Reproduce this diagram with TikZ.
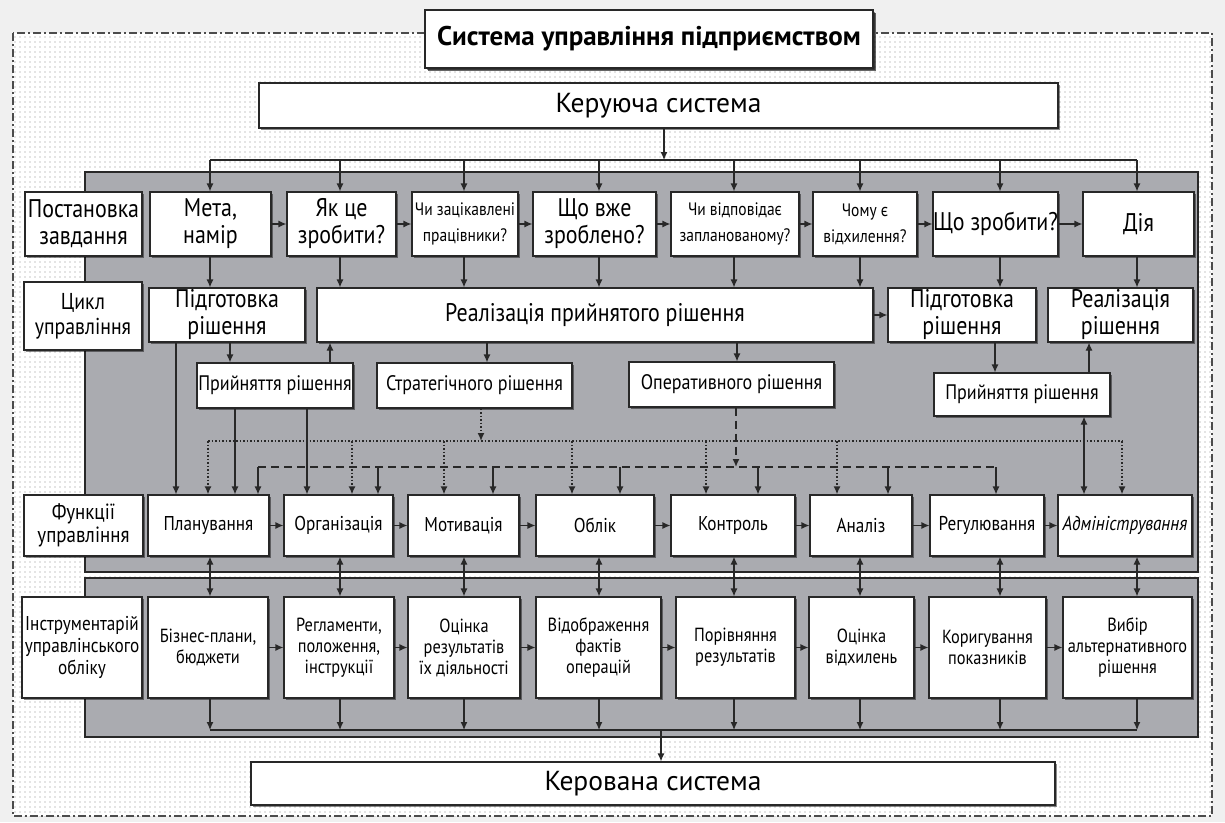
\documentclass[tikz,border=0pt]{standalone}
\usepackage{fontspec}
\setmainfont[FakeStretch=0.86]{PT Sans}
\newfontfamily\widefont{PT Sans}
\usepackage{tikz}
\usetikzlibrary{arrows.meta}
\usetikzlibrary{patterns.meta}
\usetikzlibrary{shadows}
\usetikzlibrary{positioning}
\usetikzlibrary{math}

\definecolor{panelgray}{RGB}{170,171,176}
\definecolor{linegray}{RGB}{40,40,40}

\tikzstyle{box} = [draw=linegray, line width=1.2pt, fill=white, inner sep=0pt, align=center, drop shadow={shadow xshift=1.5pt, shadow yshift=-1.5pt, fill=black, opacity=0.45}]
\tikzstyle{big} = [font=\widefont\fontsize{27.5}{30}\selectfont]
\tikzstyle{mid} = [font=\fontsize{25.5}{27}\selectfont]
\tikzstyle{lab} = [font=\fontsize{23}{25}\selectfont]
\tikzstyle{sml} = [font=\fontsize{18}{26}\selectfont]
\tikzstyle{dec} = [font=\fontsize{21}{22}\selectfont]
\tikzstyle{fun} = [font=\fontsize{20}{22}\selectfont]
\tikzstyle{tool} = [font=\fontsize{19}{21}\selectfont]
\tikzstyle{arrow} = [->, line width=1.2pt, draw=linegray]
\tikzstyle{twoway} = [<->, line width=1.2pt, draw=linegray]
\tikzstyle{dotbus} = [line width=1.5pt, draw=linegray, dotted]
\tikzstyle{dashbus} = [line width=1.5pt, draw=linegray, dash pattern=on 8pt off 5pt]
\tikzstyle{panel} = [draw=linegray, line width=1.2pt, fill=panelgray]

\begin{document}
\begin{tikzpicture}[x=1pt, y=-1pt, >={Latex[length=8pt,width=7pt]}]

  \tikzmath{\ya = 224; \yb = 315; \yd = 525.5; \ye = 647.5;}
  \tikzmath{\ha = 64; \hb = 54; \hd = 61; \he = 101;}

  \useasboundingbox (0,0) rectangle (1225,822);

  % background and frame
  \fill[black!6] (0,0) rectangle (1225,822);
  \path[preaction={fill=white}, pattern={Dots[distance=5pt,radius=0.6pt]}, pattern color=black!45] (13,33) rectangle (1212,816);
  \draw[black!70, line width=1.2pt, dash pattern=on 8pt off 3pt on 2pt off 3pt] (13,33) rectangle (1212,816);

  % panels
  \draw[panel] (85,172) rectangle (1198,572);
  \draw[panel] (85,578) rectangle (1198,737);

  % columns
  \foreach \i/\x in {1/210,2/340,3/464,4/599,5/734,6/860,7/1000,8/1137}
    \coordinate (col\i) at (\x,0);

  % top
  \node[box, font=\widefont\bfseries\fontsize{27}{30}\selectfont, minimum width=448pt, minimum height=58pt,
        drop shadow={shadow xshift=3pt, shadow yshift=-3pt, fill=black, opacity=0.6}] (sys) at (649,39) {Система управління підприємством};
  \node[box, big, minimum width=799pt, minimum height=45pt] (keruy) at (658.5,105.5) {Керуюча система};

  % Row 1
  \node[box, mid, minimum width=117pt, minimum height=\ha pt] (postan) at (83.5,\ya) {Постановка\\завдання};
  \node[box, mid, minimum width=121pt, minimum height=\ha pt] (meta) at (210.5,\ya) {Мета,\\намір};
  \node[box, mid, minimum width=109pt, minimum height=\ha pt] (yak) at (341.5,\ya) {Як це\\зробити?};
  \node[box, sml, minimum width=106pt, minimum height=\ha pt] (zatsik) at (465,\ya) {Чи зацікавлені\\працівники?};
  \node[box, mid, minimum width=123pt, minimum height=\ha pt] (zrobl) at (594.5,\ya) {Що вже\\зроблено?};
  \node[box, sml, minimum width=128pt, minimum height=\ha pt] (vidp) at (735,\ya) {Чи відповідає\\запланованому?};
  \node[box, sml, minimum width=104pt, minimum height=\ha pt] (chomu) at (865,\ya) {Чому є\\відхилення?};
  \node[box, mid, minimum width=125pt, minimum height=\ha pt] (shcho) at (995.5,\ya) {Що зробити?};
  \node[box, mid, minimum width=111pt, minimum height=\ha pt] (diya) at (1138.5,\ya) {Дія};

  % Row 2
  \node[box, lab, minimum width=118pt, minimum height=68pt] (tsykl) at (83,316) {Цикл\\управління};
  \node[box, mid, minimum width=156pt, minimum height=\hb pt] (pidg1) at (227,\yb) {Підготовка\\рішення};
  \node[box, mid, minimum width=556pt, minimum height=\hb pt] (realiz) at (595,\yb) {Реалізація прийнятого рішення};
  \node[box, mid, minimum width=148pt, minimum height=\hb pt] (pidg2) at (962,\yb) {Підготовка\\рішення};
  \node[box, mid, minimum width=145pt, minimum height=\hb pt] (realiz2) at (1120.5,\yb) {Реалізація\\рішення};

  % Row 3
  \node[box, dec, minimum width=156pt, minimum height=45pt] (prin1) at (275,385.5) {Прийняття рішення};
  \node[box, dec, minimum width=195pt, minimum height=45pt] (strat) at (474.5,385.5) {Стратегічного рішення};
  \node[box, dec, minimum width=205pt, minimum height=45pt] (oper) at (731.5,384.5) {Оперативного рішення};
  \node[box, dec, minimum width=176pt, minimum height=43pt] (prin2) at (1022,394.5) {Прийняття рішення};

  % Row 4
  \node[box, lab, minimum width=119pt, minimum height=\hd pt, font=\fontsize{22}{23}\selectfont] (funk) at (83.5,\yd) {Функції\\управління};
  \node[box, fun, minimum width=121pt, minimum height=\hd pt] (plan) at (208.5,\yd) {Планування};
  \node[box, fun, minimum width=109pt, minimum height=\hd pt] (org) at (338.5,\yd) {Організація};
  \node[box, fun, minimum width=111pt, minimum height=\hd pt] (motiv) at (463.5,\yd) {Мотивація};
  \node[box, fun, minimum width=118pt, minimum height=\hd pt] (oblik) at (595,\yd) {Облік};
  \node[box, fun, minimum width=124pt, minimum height=\hd pt] (kontr) at (733,\yd) {Контроль};
  \node[box, fun, minimum width=102pt, minimum height=\hd pt] (analiz) at (861,\yd) {Аналіз};
  \node[box, fun, minimum width=114pt, minimum height=\hd pt] (regul) at (987,\yd) {Регулювання};
  \node[box, fun, minimum width=134pt, minimum height=\hd pt] (admin) at (1125,\yd) {\itshape Адміністрування};

  % Row 5
  \node[box, fun, minimum width=120pt, minimum height=\he pt, font=\fontsize{20}{22}\selectfont] (instr) at (82,\ye) {Інструментарій\\управлінського\\обліку};
  \node[box, tool, minimum width=120pt, minimum height=\he pt] (biznes) at (208,\ye) {Бізнес-плани,\\бюджети};
  \node[box, tool, minimum width=110pt, minimum height=\he pt] (reglam) at (339,\ye) {Регламенти,\\положення,\\інструкції};
  \node[box, tool, minimum width=112pt, minimum height=\he pt] (otsin1) at (464,\ye) {Оцінка\\результатів\\їх діяльності};
  \node[box, tool, minimum width=125pt, minimum height=\he pt] (vidobr) at (598.5,\ye) {Відображення\\фактів\\операцій};
  \node[box, tool, minimum width=119pt, minimum height=\he pt] (porivn) at (735.5,\ye) {Порівняння\\результатів};
  \node[box, tool, minimum width=105pt, minimum height=\he pt] (otsin2) at (861.5,\ye) {Оцінка\\відхилень};
  \node[box, tool, minimum width=117pt, minimum height=\he pt] (koryg) at (987.5,\ye) {Коригування\\показників};
  \node[box, tool, minimum width=129pt, minimum height=\he pt] (vybir) at (1127.5,\ye) {Вибір\\альтернативного\\рішення};

  % bottom
  \node[box, big, minimum width=804pt, minimum height=43pt] (kerov) at (653,783.5) {Керована система};

  % top bus
  \coordinate (topbus) at (664,160);
  \draw[arrow] (keruy.south -| topbus) -- (topbus);
  \draw[line width=1.2pt, linegray] (topbus -| col1) -- (topbus -| col8);
  \foreach \i/\n in {1/meta,2/yak,3/zatsik,4/zrobl,5/vidp,6/chomu,7/shcho,8/diya}
    \draw[arrow] (topbus -| col\i) -- (\n.north -| col\i);

  % row 1 chain and drops
  \foreach \a/\b in {meta/yak,yak/zatsik,zatsik/zrobl,zrobl/vidp,vidp/chomu,chomu/shcho,shcho/diya}
    \draw[arrow] (\a) -- (\b);
  \foreach \i/\n/\m in {1/meta/pidg1,2/yak/realiz,3/zatsik/realiz,4/zrobl/realiz,5/vidp/realiz,6/chomu/realiz,7/shcho/pidg2,8/diya/realiz2}
    \draw[arrow] (\n.south -| col\i) -- (\m.north -| col\i);

  % row 2 and 3
  \draw[arrow] (realiz) -- (pidg2);
  \draw[arrow] (pidg1.south -| 230,0) -- (prin1.north -| 230,0);
  \draw[arrow] (prin1.north -| 330,0) -- (realiz.south -| 330,0);
  \draw[arrow] (realiz.south -| 487,0) -- (strat.north -| 487,0);
  \draw[arrow] (realiz.south -| 737,0) -- (oper.north -| 737,0);
  \draw[arrow] (pidg2.south -| 995,0) -- (prin2.north -| 995,0);
  \draw[arrow] (prin2.north -| 1089,0) -- (realiz2.south -| 1089,0);

  % solid lines to functions
  \draw[arrow] (pidg1.south -| 176,0) -- (plan.north -| 176,0);
  \draw[arrow] (prin1.south -| 235,0) -- (plan.north -| 235,0);
  \draw[arrow] (prin1.south -| 307,0) -- (org.north -| 307,0);
  \draw[twoway] (prin2.south -| 1084,0) -- (admin.north -| 1084,0);

  % strategic (dotted)
  \coordinate (sbusL) at (208,441);
  \coordinate (sbusR) at (1122,441);
  \draw[dotbus] (sbusL) -- (sbusR);
  \draw[dotbus, ->] (strat.south -| 481,0) -- (sbusL -| 481,0);
  \foreach \x/\n in {208/plan,352/org,444/motiv,572/oblik,706/kontr,837/analiz,1122/admin}
    \draw[dotbus, ->] (sbusL -| \x,0) -- (\n.north -| \x,0);

  % operative (dashed)
  \coordinate (obusL) at (258,467);
  \coordinate (obusR) at (996,467);
  \draw[dashbus] (obusL) -- (obusR);
  \draw[dashbus, ->] (oper.south -| 736,0) -- (obusL -| 736,0);
  \foreach \x/\n in {258/plan,378/org,493/motiv,620/oblik,758/kontr,888/analiz,996/regul}
    \draw[arrow] (obusL -| \x,0) -- (\n.north -| \x,0);

  % row 4 and 5
  \foreach \a/\b in {plan/org,org/motiv,motiv/oblik,oblik/kontr,kontr/analiz,analiz/regul,regul/admin}
    \draw[arrow] (\a) -- (\b);
  \foreach \a/\b in {biznes/reglam,reglam/otsin1,otsin1/vidobr,vidobr/porivn,porivn/otsin2,otsin2/koryg,koryg/vybir}
    \draw[arrow] (\a) -- (\b);
  \foreach \i/\a/\b in {1/plan/biznes,2/org/reglam,3/motiv/otsin1,4/oblik/vidobr,5/kontr/porivn,6/analiz/otsin2,7/regul/koryg,8/admin/vybir}
    \draw[twoway] (\a.south -| col\i) -- (\b.north -| col\i);

  % bottom bus
  \coordinate (bbus) at (661,730);
  \foreach \i/\n in {1/biznes,2/reglam,3/otsin1,4/vidobr,5/porivn,6/otsin2,7/koryg,8/vybir}
    \draw[arrow] (\n.south -| col\i) -- (bbus -| col\i);
  \draw[line width=1.2pt, linegray] (bbus -| col1) -- (bbus -| col8);
  \draw[arrow] (bbus) -- (kerov.north -| bbus);

\end{tikzpicture}
\end{document}
